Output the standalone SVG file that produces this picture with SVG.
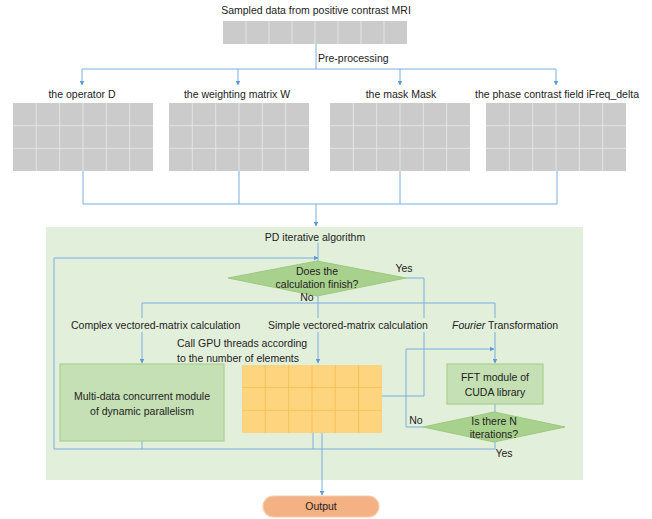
<svg xmlns="http://www.w3.org/2000/svg" width="652" height="519" viewBox="0 0 652 519">
<style>
text{font-family:"Liberation Sans",Arial,sans-serif;font-size:10.5px;fill:#222}
.c{text-anchor:middle}
.conn{fill:none;stroke:#7aaee0;stroke-width:1}
.gcell{fill:#cbcbcb;stroke:none}
.gline{stroke:#e4e4e4;stroke-width:1;fill:none}
.ycell{fill:#ffd47f}
.yline{stroke:#f5c256;stroke-width:1;fill:none}
.box{fill:#c5e0b4;stroke:#a9d18e;stroke-width:1.2}
.dia{fill:#a9d18e;stroke:#9cc97e;stroke-width:1}
.bg{fill:#e2efda}
.tbg{fill:#e2efda}
</style>
<defs>
<marker id="ah" viewBox="0 0 10 10" refX="9" refY="5" markerWidth="5" markerHeight="5" orient="auto">
<path d="M0,0 L10,5 L0,10 z" fill="#5b9bd5"/>
</marker>
</defs>

<rect class="bg" x="46" y="227" width="537" height="253"/>

<g id="connectors">
<!-- top -->
<path class="conn" d="M316,44 V69"/>
<path class="conn" d="M82,69 H556"/>
<path class="conn" d="M82,69 V85" marker-end="url(#ah)"/>
<path class="conn" d="M238,69 V85" marker-end="url(#ah)"/>
<path class="conn" d="M400,69 V85" marker-end="url(#ah)"/>
<path class="conn" d="M556,69 V85" marker-end="url(#ah)"/>
<!-- below grids -->
<path class="conn" d="M83,171 V204 H557"/>
<path class="conn" d="M239,171 V204"/>
<path class="conn" d="M400,171 V204"/>
<path class="conn" d="M557,171 V204"/>
<path class="conn" d="M316,204 V226" marker-end="url(#ah)"/>
<!-- PD to diamond -->
<path class="conn" d="M318,243 V262"/>
<!-- loop -->
<path class="conn" d="M54,258 H318" marker-end="url(#ah)"/>
<path class="conn" d="M54,258 V449 H495"/>
<path class="conn" d="M142,441 V449"/>
<path class="conn" d="M313,433 V449"/>
<path class="conn" d="M495,442 V449"/>
<!-- No branch -->
<path class="conn" d="M142,303 H495"/>
<path class="conn" d="M142,303 V363" marker-end="url(#ah)"/>
<path class="conn" d="M495,303 V363" marker-end="url(#ah)"/>
<path class="conn" d="M318,296 V363" marker-end="url(#ah)"/>
<!-- Yes branch to output -->
<path class="conn" d="M406,278 H424 V396 H322 V495" marker-end="url(#ah)"/>
<!-- FFT loop -->
<path class="conn" d="M495,404 V412"/>
<path class="conn" d="M423,427 H406 V349 H494" marker-end="url(#ah)"/>
</g>

<g id="sampled">
<text class="c" x="316" y="14">Sampled data from positive contrast MRI</text>
<rect class="gcell" x="223" y="21" width="184" height="23"/>
<path class="gline" d="M246,21V44M269,21V44M292,21V44M315,21V44M338,21V44M361,21V44M384,21V44"/>
</g>

<g id="preproc">
<rect class="tbg" x="316" y="50" width="0" height="0"/>
<text x="318" y="62">Pre-processing</text>
</g>

<g id="operatorD">
<text class="c" x="82" y="98">the operator D</text>
<rect class="gcell" x="13" y="103" width="140" height="68"/>
<path class="gline" d="M36.3,103V171M59.7,103V171M83,103V171M106.3,103V171M129.7,103V171M13,125.7H153M13,148.3H153"/>
</g>

<g id="weightW">
<text class="c" x="237" y="98">the weighting matrix W</text>
<rect class="gcell" x="169" y="103" width="140" height="68"/>
<path class="gline" d="M192.3,103V171M215.7,103V171M239,103V171M262.3,103V171M285.7,103V171M169,125.7H309M169,148.3H309"/>
</g>

<g id="mask">
<text class="c" x="401" y="98">the mask Mask</text>
<rect class="gcell" x="330" y="103" width="140" height="68"/>
<path class="gline" d="M353.3,103V171M376.7,103V171M400,103V171M423.3,103V171M446.7,103V171M330,125.7H470M330,148.3H470"/>
</g>

<g id="phase">
<text class="c" x="557" y="98">the phase contrast field iFreq_delta</text>
<rect class="gcell" x="486" y="103" width="140" height="68"/>
<path class="gline" d="M509.3,103V171M532.7,103V171M556,103V171M579.3,103V171M602.7,103V171M486,125.7H626M486,148.3H626"/>
</g>

<g id="pd">
<text class="c" x="315" y="241">PD iterative algorithm</text>
</g>

<g id="finish">
<polygon class="dia" points="228,278 317,261 406,278 317,296"/>
<text class="c" x="317" y="275">Does the</text>
<text class="c" x="317" y="288">calculation finish?</text>
<text class="c" x="404" y="272">Yes</text>
<text class="c" x="307" y="301">No</text>
</g>

<g id="labels">
<rect class="tbg" x="68" y="318" width="180" height="14"/>
<text x="71" y="329">Complex vectored-matrix calculation</text>
<rect class="tbg" x="266" y="318" width="170" height="14"/>
<text x="268" y="329">Simple vectored-matrix calculation</text>
<rect class="tbg" x="450" y="318" width="112" height="14"/>
<text x="452" y="329"><tspan font-style="italic">Fourier</tspan> Transformation</text>
<text x="177" y="347">Call GPU threads according</text>
<text x="177" y="362">to the number of elements</text>
</g>

<g id="multidata">
<rect class="box" x="60" y="364" width="164" height="77"/>
<text class="c" x="142" y="400">Multi-data concurrent module</text>
<text class="c" x="142" y="415">of dynamic parallelism</text>
</g>

<g id="gpugrid">
<rect class="ycell" x="242" y="365" width="140" height="68"/>
<path class="yline" d="M265.3,365V433M288.7,365V433M312,365V433M335.3,365V433M358.7,365V433M242,387.7H382M242,410.3H382"/>
</g>

<g id="fft">
<rect class="box" x="447" y="364" width="96" height="40"/>
<text class="c" x="495" y="381">FFT module of</text>
<text class="c" x="495" y="396">CUDA library</text>
</g>

<g id="iter">
<polygon class="dia" points="423,427 494,412 565,427 494,442"/>
<text class="c" x="494" y="425">Is there N</text>
<text class="c" x="494" y="438">iterations?</text>
<text class="c" x="416" y="424">No</text>
<text class="c" x="504" y="457">Yes</text>
</g>

<g id="output">
<rect x="263" y="496" width="116" height="21" rx="10.5" fill="#f4b183" stroke="#f8cbad" stroke-width="1.2"/>
<text class="c" x="321" y="510">Output</text>
</g>
</svg>
